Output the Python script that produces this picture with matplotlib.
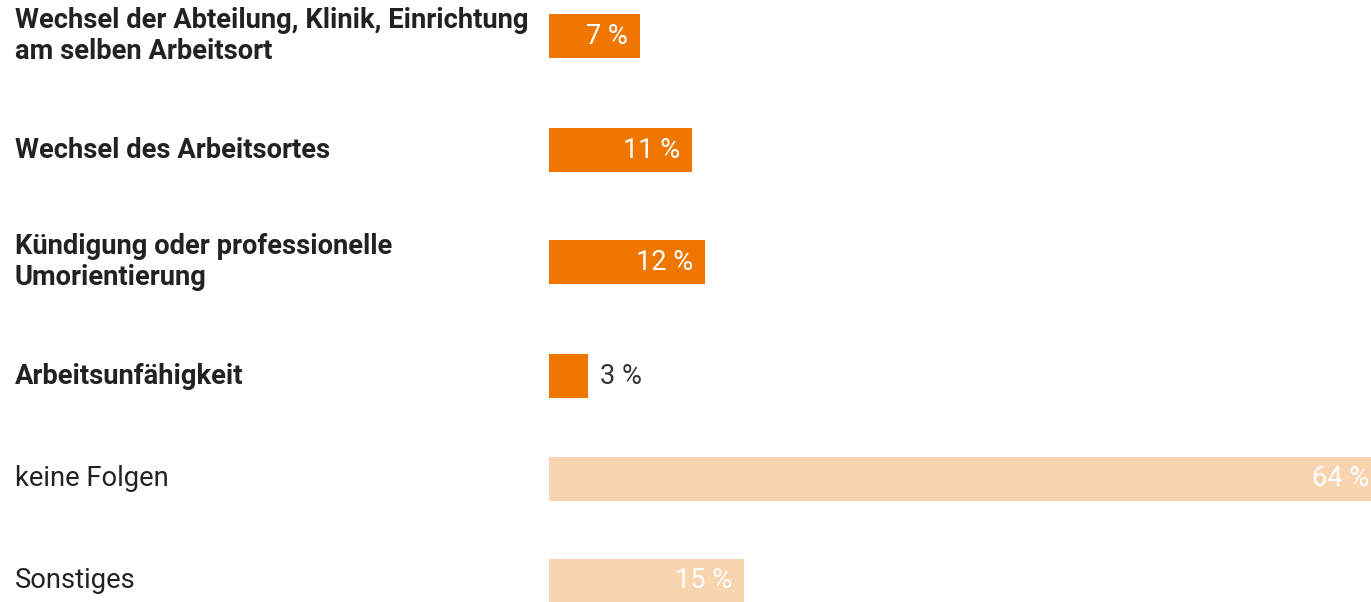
import matplotlib.pyplot as plt

# data
categories = ["Wechsel der Abteilung, Klinik, Einrichtung\nam selben Arbeitsort",
              "Wechsel des Arbeitsortes",
              "Kündigung oder professionelle\nUmorientierung",
              "Arbeitsunfähigkeit",
              "keine Folgen",
              "Sonstiges"]
values = [7, 11, 12, 3, 64, 15]
highlight = [True, True, True, True, False, False]

# layout (row centres in pixel rows of the 602 px tall figure)
rows = [36, 150, 262, 376, 479, 581]
bar_h = 44
px_per_pct = 13.0

W, H = 1371, 602
fig = plt.figure(figsize=(W / 100, H / 100), dpi=100)
ax = fig.add_axes([549 / W, 0, 1 - 549 / W, 1])
ax.set_xlim(0, (W - 549) / px_per_pct)
ax.set_ylim(H, 0)
ax.axis("off")

dark = "#EF7700"
light = "#F9D4B0"
colors = [dark if h else light for h in highlight]
ax.barh(rows, values, height=bar_h, color=colors, clip_on=True)

for y, v in zip(rows, values):
    if v < 5:
        ax.annotate(f"{v} %", (v, y), xytext=(12, 0), textcoords="offset pixels",
                    ha="left", va="center", fontsize=19.5, color="#333333",
                    family="Roboto")
    else:
        ax.annotate(f"{v} %", (v, y), xytext=(-12, 0), textcoords="offset pixels",
                    ha="right", va="center", fontsize=19.5, color="white",
                    family="Roboto", annotation_clip=False)

for y, cat, h in zip(rows, categories, highlight):
    fig.text(15 / W, 1 - y / H, cat, ha="left", va="center", fontsize=19.7,
             family="Roboto", fontweight="bold" if h else "normal",
             color="#222222", linespacing=1.2)

plt.savefig("out.png", dpi=100)
